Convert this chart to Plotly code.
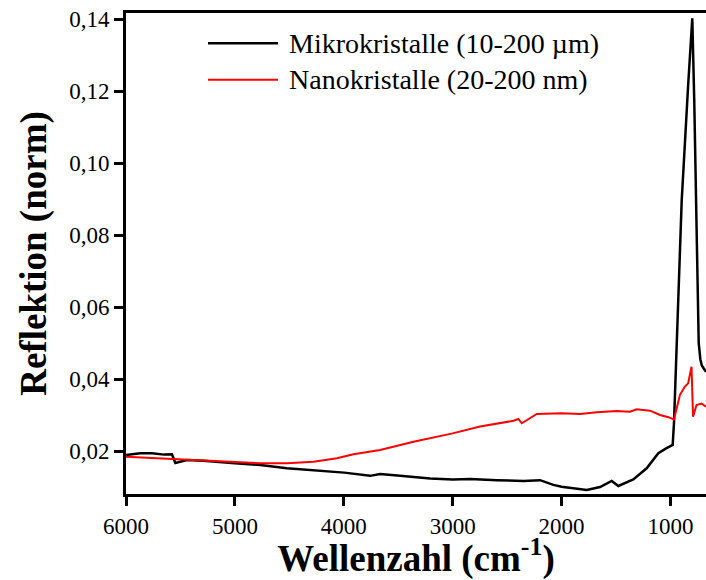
import plotly.graph_objects as go

# Wavenumber (cm^-1) and normalised reflection values
x_mikro = [6000, 5869, 5761, 5650, 5578, 5547, 5440, 5288, 5000, 4767, 4522, 4216,
           3996, 3758, 3666, 3482, 3207, 3000, 2840, 2594, 2350, 2197, 2075, 2000,
           1830, 1768, 1646, 1539, 1478, 1371, 1341, 1218, 1111, 1035, 979, 967,
           960, 933, 896, 836, 820, 799, 781, 760, 747, 740, 725, 712, 695, 673]
y_mikro = [0.0189, 0.0194, 0.0194, 0.0190, 0.0191, 0.0167, 0.0175, 0.0173, 0.0166,
           0.0161, 0.0152, 0.0144, 0.0140, 0.0131, 0.0136, 0.0131, 0.0124, 0.0121,
           0.0122, 0.0119, 0.0117, 0.0119, 0.0106, 0.0101, 0.0094, 0.0092, 0.0100,
           0.0117, 0.0103, 0.0117, 0.0121, 0.0152, 0.0194, 0.0208, 0.0217, 0.0278,
           0.0342, 0.0528, 0.0897, 0.1221, 0.1300, 0.1402, 0.1175, 0.0806, 0.0550,
           0.0500, 0.0455, 0.0438, 0.0430, 0.0420]

x_nano = [6000, 5747, 5440, 5000, 4767, 4522, 4278, 4063, 3911, 3666, 3360, 3000,
          2748, 2442, 2396, 2365, 2319, 2227, 2000, 1830, 1677, 1524, 1493, 1371,
          1310, 1187, 1095, 1019, 967, 912, 867, 837, 806, 792, 760, 714, 673]
y_nano = [0.0184, 0.0180, 0.0175, 0.0170, 0.0166, 0.0166, 0.0170, 0.0180, 0.0191,
          0.0203, 0.0226, 0.0249, 0.0268, 0.0284, 0.0289, 0.0277, 0.0286, 0.0303,
          0.0305, 0.0303, 0.0308, 0.0309, 0.0311, 0.0309, 0.0316, 0.0312, 0.0300,
          0.0294, 0.0288, 0.0356, 0.0379, 0.0388, 0.0434, 0.0295, 0.0328, 0.0332,
          0.0323]

name_mikro = "Mikrokristalle (10-200 µm)"
name_nano = "Nanokristalle (20-200 nm)"

x_ticks = [6000, 5000, 4000, 3000, 2000, 1000]
y_ticks = [0.02, 0.04, 0.06, 0.08, 0.10, 0.12, 0.14]

FONT = "Liberation Serif, Times New Roman, serif"

fig = go.Figure()
fig.add_trace(go.Scatter(x=x_mikro, y=y_mikro, mode="lines", name=name_mikro,
                         line=dict(color="black", width=2.5)))
fig.add_trace(go.Scatter(x=x_nano, y=y_nano, mode="lines", name=name_nano,
                         line=dict(color="red", width=2)))

fig.update_layout(
    width=706, height=580,
    margin=dict(l=126, r=0, t=13, b=86),
    paper_bgcolor="white", plot_bgcolor="white",
    separators=",.",
    showlegend=False,
    font=dict(family=FONT, color="black", size=23),
)

fig.update_xaxes(
    range=[6000, 673], tickvals=x_ticks, ticktext=[str(v) for v in x_ticks],
    ticks="outside", ticklen=9, tickwidth=2.5, tickcolor="black",
    showline=True, linewidth=3, linecolor="black", mirror=True,
    showgrid=False, zeroline=False,
    tickfont=dict(family=FONT, size=23),
    title=dict(text="<b>Wellenzahl (cm<sup>-1</sup>)</b>",
               font=dict(family=FONT, size=37), standoff=2),
)
fig.update_yaxes(
    range=[0.00806, 0.14167], tickvals=y_ticks, tickformat=".2f",
    ticks="outside", ticklen=9, tickwidth=2.5, tickcolor="black",
    showline=True, linewidth=3, linecolor="black",
    showgrid=False, zeroline=False,
    tickfont=dict(family=FONT, size=23),
    title=dict(text="<b>Reflektion (norm)</b>",
               font=dict(family=FONT, size=37), standoff=12),
)

# Manual legend (long line samples as in the original)
legend_items = [(name_mikro, "black", 2.5, 0.937), (name_nano, "red", 2, 0.861)]
for label, col, w, yp in legend_items:
    fig.add_shape(type="line", xref="paper", yref="paper",
                  x0=0.1414, x1=0.2621, y0=yp, y1=yp,
                  line=dict(color=col, width=w))
    fig.add_annotation(xref="paper", yref="paper", x=0.2776, y=yp,
                       xanchor="left", yanchor="middle", showarrow=False,
                       text=label, font=dict(family=FONT, size=28, color="black"))

fig.write_html("out.html")
